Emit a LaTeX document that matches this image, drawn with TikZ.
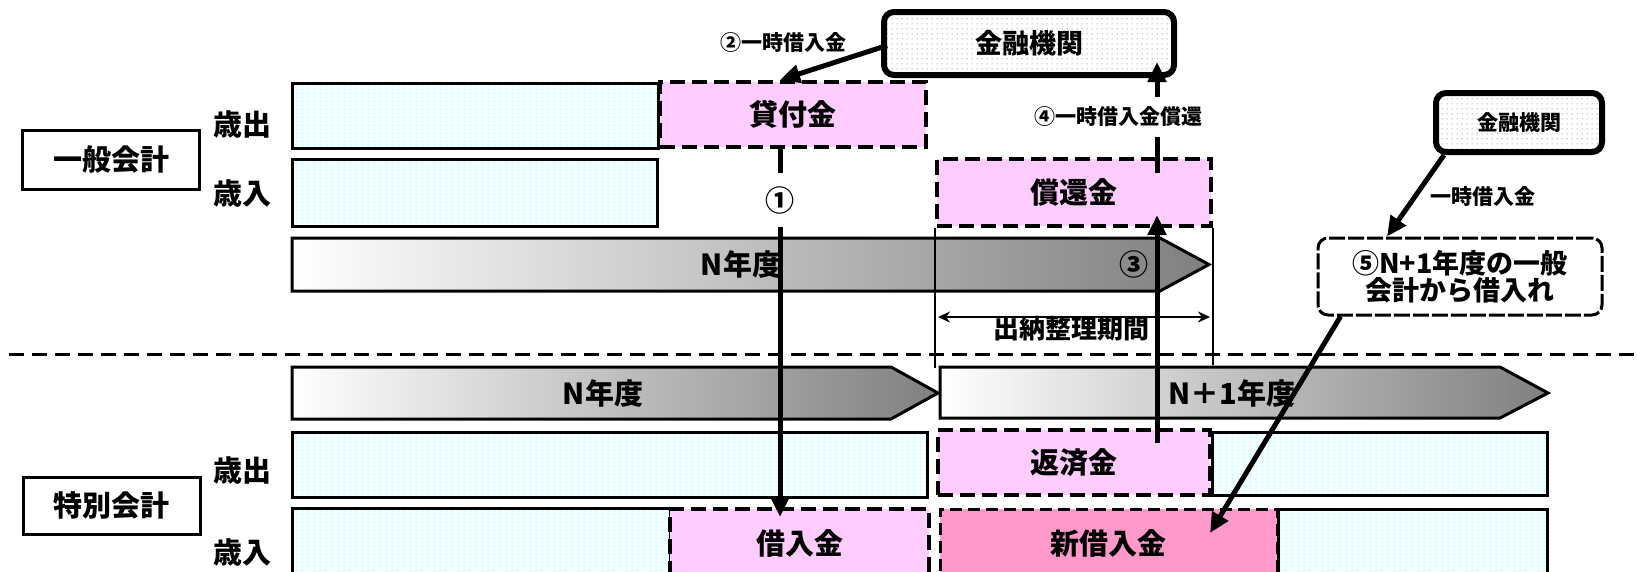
\documentclass[tikz,border=0pt]{standalone}
\usepackage{fontspec}
\setmainfont{Noto Sans CJK JP}
\usetikzlibrary{arrows.meta,patterns.meta}
\definecolor{pinkfill}{RGB}{255,204,255}
\definecolor{hotpink}{RGB}{255,153,204}
\definecolor{cyanfill}{RGB}{246,255,255}
\definecolor{cyandot}{RGB}{170,255,255}
\newcommand\szA{\fontsize{29pt}{34pt}\selectfont\bfseries}
\newcommand\szB{\fontsize{21pt}{25pt}\selectfont\bfseries}
\newcommand\szC{\fontsize{26pt}{31pt}\selectfont\bfseries}
\newcommand\szD{\fontsize{27pt}{32pt}\selectfont\bfseries}
\newcommand\szE{\fontsize{27pt}{27pt}\selectfont\bfseries}
\tikzdeclarepattern{name=sparsedots, type=uncolored,
  bounding box={(0pt,0pt) and (5pt,5pt)}, tile size={(5pt,5pt)},
  code={\fill (2.5pt,2.5pt) circle (0.7pt);}}
\tikzdeclarepattern{name=columndots, type=uncolored,
  bounding box={(0pt,0pt) and (6pt,4pt)}, tile size={(6pt,4pt)},
  code={\fill (2pt,1pt) rectangle (3.6pt,2.8pt);}}
\begin{document}
\begin{tikzpicture}[x=1pt,y=-1pt,
  cell/.style={draw, line width=3pt, preaction={fill=cyanfill}, pattern=columndots, pattern color=cyandot, inner sep=0pt},
  pinkbox/.style={draw, line width=4pt, dash pattern=on 15pt off 7pt, fill=pinkfill, inner sep=0pt, font=\szA},
  acct/.style={draw, line width=3pt, inner sep=0pt, font=\szA},
  rowlabel/.style={inner sep=0pt, font=\szA},
  bank/.style={draw, line width=6pt, rounded corners=10pt, preaction={fill=white}, pattern=sparsedots, pattern color=black!45, inner sep=0pt},
  yearbar/.style={draw, line width=3pt, left color=white, right color=black!50},
  yeartext/.style={inner sep=0pt, font=\szA},
  conn/.style={line width=5pt, -{Triangle[length=20pt,width=18pt]}},
  plainconn/.style={line width=5pt},
  thinline/.style={line width=1.5pt},
  sepline/.style={line width=3pt, dash pattern=on 15pt off 8pt},
  note/.style={inner sep=0pt, font=\szB},
  loanbox/.style={draw, line width=3pt, dash pattern=on 16pt off 3pt, rounded corners=10pt, fill=white, align=center, font=\szE, inner sep=0pt},
  dim/.style={line width=2pt, {Stealth[length=12pt,width=11pt]}-{Stealth[length=12pt,width=11pt]}}
]
\useasboundingbox (0,0) rectangle (1637,571);

% ---- account labels
\node[acct, minimum width=177pt, minimum height=59pt] (ippan) at (111,159.5) {一般会計};
\node[rowlabel] (gaout) at (242,124) {歳出};
\node[rowlabel] (gain) at (242,193) {歳入};
\node[acct, minimum width=177pt, minimum height=57pt] (tokubetsu) at (111.5,505.5) {特別会計};
\node[rowlabel] (saout) at (242,470) {歳出};
\node[rowlabel] (sain) at (242,552) {歳入};

% ---- general account rows
\node[cell, minimum width=366pt, minimum height=65pt] (ga1) at (475,115.5) {};
\node[pinkbox, minimum width=266pt, minimum height=65pt] (kashi) at (793,114.5) {貸付金};
\node[cell, minimum width=365pt, minimum height=67pt] (ga2) at (474.5,192.5) {};
\node[pinkbox, minimum width=274pt, minimum height=67pt] (shokan) at (1074,192.5) {償還金};

% ---- banks
\node[bank, minimum width=290pt, minimum height=63pt, font=\szD] (bankA) at (1029,43.5) {金融機関};
\node[bank, minimum width=166pt, minimum height=59pt, font=\szB] (bankB) at (1519,122.5) {金融機関};
\node[note] (lab2) at (783,43) {②一時借入金};
\node[note] (lab5) at (1483,197) {一時借入金};
\node[loanbox, minimum width=284pt, minimum height=77pt] (five) at (1460,276.5) {⑤N+1年度の一般\\会計から借入れ};

% ---- year bars
\path[yearbar] (292,238) -- (1160,238) -- (1209,264.5) -- (1160,291) -- (292,291) -- cycle;
\node[yeartext] (gaN) at (741,264) {N年度};
\node[yeartext] (three) at (1134,264) {③};
\path[yearbar] (292,367) -- (891,367) -- (938,393) -- (891,419) -- (292,419) -- cycle;
\node[yeartext] (saN) at (603,393) {N年度};
\path[yearbar] (940,367) -- (1500,367) -- (1548,393) -- (1500,418) -- (940,418) -- cycle;
\node[yeartext] (saN1) at (1232,393) {N＋1年度};

% ---- separator
\draw[sepline] (9,354) -- (1637,354);

% ---- special account rows
\node[cell, minimum width=635pt, minimum height=65pt] (sa1L) at (609.5,464.5) {};
\node[pinkbox, minimum width=272pt, minimum height=65pt] (hensai) at (1074,462.5) {返済金};
\node[cell, minimum width=335pt, minimum height=63pt] (sa1R) at (1379.5,463.5) {};
\node[cell, minimum width=378pt, minimum height=69pt] (sa2L) at (481,542.5) {};
\node[pinkbox, minimum width=259pt, minimum height=68pt] (kariire) at (799.5,543) {借入金};
\node[pinkbox, fill=hotpink, line width=3pt, dash pattern=on 12pt off 6pt, minimum width=337pt, minimum height=68pt] (shinkari) at (1108.5,543) {新借入金};
\node[cell, minimum width=269pt, minimum height=68pt] (sa2R) at (1412.5,543) {};

% ---- settlement period
\draw[thinline] (shokan.south west) -- ++(0,140);
\draw[thinline] (shokan.south east) -- ++(0,137);
\coordinate (dL) at (938,317);
\coordinate (dR) at (1210,317);
\draw[dim] (dL) -- (dR);
\node[inner sep=0pt, font=\szC] (period) at (1071,329) {出納整理期間};

% ---- connectors
\node[yeartext, minimum height=54pt] (one) at (780,200) {①};
\draw[conn] ([xshift=6pt,yshift=-2pt]bankA.west) -- (kashi.north -| one);
\draw[plainconn] (kashi.south -| one) -- (one.north);
\draw[conn, shorten >=-10pt] (one.south) -- (kariire.north -| one);

\node[note, minimum height=40pt] (four) at (1118,117) {④一時借入金償還};
\coordinate (r4) at (1157,173);
\draw[plainconn] (r4) -- (r4 |- four.south);
\draw[conn, shorten >=-16pt] (r4 |- four.north) -- (r4 |- bankA.south);

\coordinate (r3) at (1157,443);
\draw[conn, shorten >=-13pt] (r3) -- (r3 |- shokan.south);

\draw[conn] ([xshift=11pt]bankB.south west) -- ([xshift=-73pt]five.north);
\draw[conn] ([xshift=24pt]five.south west) -- ([xshift=101.5pt,yshift=10pt]shinkari.center);
\end{tikzpicture}
\end{document}
